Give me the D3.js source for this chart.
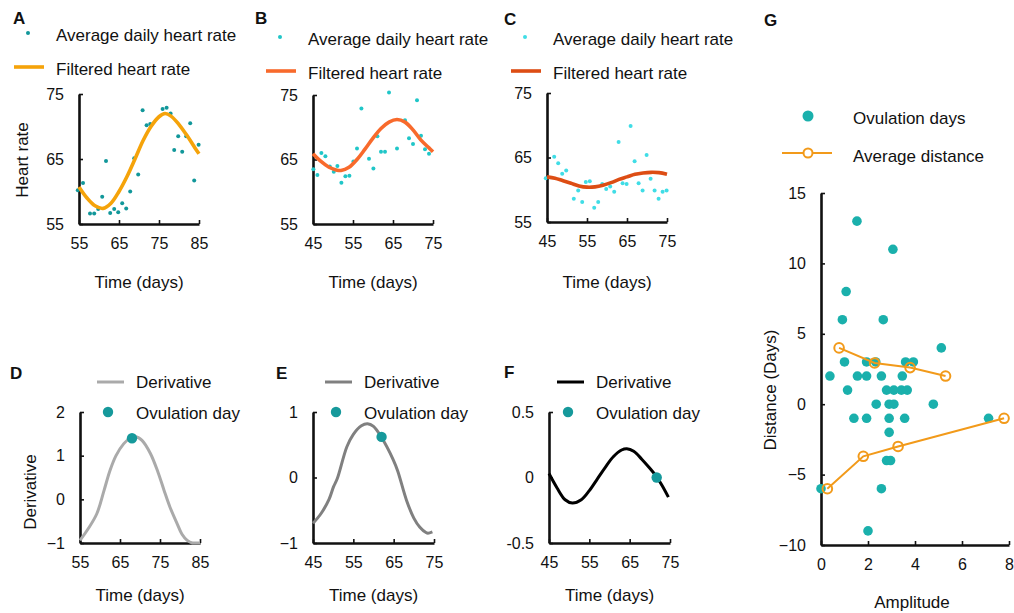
<!DOCTYPE html>
<html><head><meta charset="utf-8">
<script src="https://cdn.jsdelivr.net/npm/d3@7"></script>
<style>
body{margin:0;background:#fff;}
text{font-family:"Liberation Sans",Arial,sans-serif;fill:#111;}
</style></head>
<body><svg id="c" width="1014" height="613"></svg>
<script>
// ---------- DATA ----------
const aDays = [54.7,56,57.75,58.8,59.8,60.8,61.75,62.8,63.8,64.8,65.8,66.8,67.8,68.8,69.8,70.9,71.9,72.8,75.9,76.9,77.9,78.8,79.8,80.8,81.8,82.8,83.8,84.9];
const aHR   = [60.2,61.3,56.6,56.6,57.3,59.2,64.7,56.7,57.3,56.8,58.2,57.4,60.0,65.1,62.6,72.5,70.2,70.4,72.7,72.9,72.0,66.4,68.5,66.1,68.5,70.5,61.7,67.2];
const aFiltDays = [55,57,59,61,63,65,67,69,71,73,75,76.5,78,80,82,84,85];
const aFiltHR   = [60.7,59.0,57.8,57.4,58.2,60.0,62.3,65.0,67.8,70.0,71.5,72.0,71.6,70.3,68.6,66.7,65.8];

const bDays = [45.1,46.1,47.1,48.1,49.2,50.2,51.1,52.1,53.1,54.1,55.1,56,57.1,59,60.1,61.1,62,63,64,66,68,69,70,71,72,73,74];
const bHR   = [63.5,62.6,66.0,65.5,63.9,63.1,64.0,61.4,62.4,62.5,64.7,66.7,72.9,65.1,63.6,68.6,66.2,66.2,75.4,66.7,71.1,68.3,67.4,74.2,68.7,66.6,65.9];
const bFiltDays = [45,47,49,51,52,54,56,58,60,62,64,66,68,70,72,74,75];
const bFiltHR   = [65.9,64.7,63.8,63.35,63.3,63.8,65.0,66.6,68.3,69.8,70.8,71.2,70.8,69.6,68.0,66.8,66.2];

const cDays = [44.7,46.8,47.8,48.8,49.8,51.7,52.8,53.8,54.7,55.7,56.8,57.8,58.8,59.8,60.8,61.8,62.9,63.9,64.9,65.9,66.9,67.9,68.9,69.9,70.9,71.9,72.9,73.9,74.9];
const cHR   = [61.8,65.1,64.1,62.5,63.0,58.6,59.9,58.1,61.2,61.3,57.2,58.1,60.9,60.1,60.5,59.7,67.4,61.0,60.9,69.9,64.4,61.0,59.9,65.4,61.7,59.9,58.6,59.7,59.9];
const cFiltDays = [45,47,49,51,53,55,57,59,61,63,65,67,69,71,73,75];
const cFiltHR   = [62.0,61.8,61.4,61.0,60.6,60.4,60.45,60.7,61.1,61.6,62.0,62.4,62.6,62.7,62.65,62.4];

const dDays = [55,57,59.2,61,62.5,64,65.9,67.5,68.8,70.5,72.6,74.5,76,77.5,79.3,80.5,81.8,83.1,84,85];
const dDeriv = [-0.94,-0.68,-0.33,0.2,0.66,1.0,1.27,1.4,1.44,1.35,1.05,0.62,0.21,-0.18,-0.56,-0.8,-0.94,-1.0,-1.0,-1.0];
const dOvu = [68, 1.40];

const eDays = [45,47,49,50.1,51,53.4,55,57,58.5,60,62,64.9,66,68.2,70,71.5,73,73.5,74.6];
const eDeriv = [-0.70,-0.55,-0.33,-0.14,-0.02,0.47,0.66,0.79,0.82,0.78,0.61,0.27,0.1,-0.35,-0.62,-0.76,-0.84,-0.85,-0.83];
const eOvu = [62, 0.62];

const fDays = [45,47,49,50.8,53,55,57,59,61,63,64.3,66,68,70,71.7,73,74.6];
const fDeriv = [0.03,-0.08,-0.17,-0.195,-0.17,-0.1,-0.01,0.08,0.16,0.21,0.22,0.2,0.14,0.07,0.005,-0.06,-0.15];
const fOvu = [71.7, 0.0];

const gAmp  = [1.53,3.06,1.07,0.91,2.65,0.38,1.0,1.13,1.40,1.55,1.94,1.94,2.33,1.94,2.35,2.57,2.79,3.1,3.42,3.67,2.9,3.1,2.9,2.9,2.79,2.96,2.57,2.0,0.0,3.46,3.6,3.93,3.56,4.78,5.12,7.13];
const gDist = [13,11,8,6,6,2,3,1,-1,2,3,2,3,-1,0,2,1,1,1,1,0,0,-1,-2,-4,-4,-6,-9,-6,2,3,3,-1,0,4,-1];
const gUpAmp  = [0.77,2.28,3.79,5.3];
const gUpDist = [4,2.93,2.6,2];
const gLoAmp  = [0.27,1.8,3.28,7.79];
const gLoDist = [-6,-3.7,-3.0,-1];

const xTicksA = [55,65,75,85], xTicksBC = [45,55,65,75];
const hrTicks = [55,65,75];
const dTicks = [-1,0,1,2], eTicks = [-1,0,1], fTicks = [-0.5,0,0.5];
const gXTicks = [0,2,4,6,8], gYTicks = [-10,-5,0,5,10,15];

// ---------- DRAW ----------
const svg = d3.select("#c");
const teal = "#16999b";

function axes(g, x, y, xt, yt, fmtY){
  const ax = g.append("g").attr("transform",`translate(0,${y.range()[0]})`)
    .call(d3.axisBottom(x).tickValues(xt).tickSizeInner(-4).tickSizeOuter(0).tickPadding(14).tickFormat(d3.format("d")));
  const ay = g.append("g").attr("transform",`translate(${x.range()[0]},0)`)
    .call(d3.axisLeft(y).tickValues(yt).tickSizeInner(-4).tickSizeOuter(0).tickPadding(15).tickFormat(fmtY||d3.format("d")));
  [ax,ay].forEach(a=>{
    a.select(".domain").attr("stroke","#111").attr("stroke-width",2.6);
    a.selectAll(".tick line").attr("stroke","#111").attr("stroke-width",1.6);
    a.selectAll(".tick text").attr("font-size",16).attr("fill","#111").style("font-family","Liberation Sans, Arial");
  });
}
function letter(x,y,t){ svg.append("text").attr("x",x).attr("y",y).attr("dy","0.35em").attr("font-size",17).attr("font-weight","bold").text(t); }
function txt(x,y,t,opts={}){ const e=svg.append("text").attr("x",x).attr("y",y).attr("dy","0.35em").attr("font-size",opts.size||17).attr("text-anchor",opts.anchor||"start").text(t); if(opts.rot) e.attr("transform",`rotate(-90,${x},${y})`); return e; }

function hrPanel(cfg){
  const x = d3.scaleLinear().domain(cfg.xd).range([cfg.x0,cfg.x1]);
  const y = d3.scaleLinear().domain([55,75]).range([cfg.y1,cfg.y0]);
  const g = svg.append("g");
  axes(g,x,y,cfg.xt,hrTicks);
  g.append("g").selectAll("circle").data(cfg.days.map((d,i)=>[d,cfg.hr[i]])).join("circle")
    .attr("cx",d=>x(d[0])).attr("cy",d=>y(d[1])).attr("r",2).attr("fill",cfg.dot);
  g.append("path").datum(cfg.fd.map((d,i)=>[d,cfg.fh[i]]))
    .attr("d",d3.line().x(d=>x(d[0])).y(d=>y(d[1])).curve(d3.curveCatmullRom))
    .attr("fill","none").attr("stroke",cfg.line).attr("stroke-width",3.6);
  // legend
  svg.append("circle").attr("cx",cfg.lx+14).attr("cy",cfg.ly).attr("r",2).attr("fill",cfg.dot);
  txt(cfg.lx+42,cfg.ly+2,"Average daily heart rate");
  svg.append("line").attr("x1",cfg.lx).attr("x2",cfg.lx+30).attr("y1",cfg.ly+34).attr("y2",cfg.ly+34).attr("stroke",cfg.line).attr("stroke-width",3.6);
  txt(cfg.lx+42,cfg.ly+36,"Filtered heart rate");
  txt((cfg.x0+cfg.x1)/2,282,"Time (days)",{anchor:"middle"});
}

hrPanel({xd:[55,85],x0:79,x1:199,y0:94,y1:224,xt:xTicksA,days:aDays,hr:aHR,fd:aFiltDays,fh:aFiltHR,dot:"#11979a",line:"#f5a30a",lx:14,ly:33});
hrPanel({xd:[45,75],x0:313,x1:433,y0:95,y1:224,xt:xTicksBC,days:bDays,hr:bHR,fd:bFiltDays,fh:bFiltHR,dot:"#20c6c8",line:"#f86a2c",lx:266,ly:37});
hrPanel({xd:[45,75],x0:547,x1:667,y0:93,y1:222,xt:xTicksBC,days:cDays,hr:cHR,fd:cFiltDays,fh:cFiltHR,dot:"#40dde6",line:"#dd4d14",lx:511,ly:37});
txt(22,160,"Heart rate",{rot:true,anchor:"middle"});

function derPanel(cfg){
  const x = d3.scaleLinear().domain(cfg.xd).range([cfg.x0,cfg.x1]);
  const y = d3.scaleLinear().domain(cfg.yd).range([543,412]);
  const g = svg.append("g");
  axes(g,x,y,cfg.xt,cfg.yt,cfg.fmt);
  g.append("path").datum(cfg.days.map((d,i)=>[d,cfg.v[i]]))
    .attr("d",d3.line().x(d=>x(d[0])).y(d=>y(d[1])).curve(d3.curveCatmullRom))
    .attr("fill","none").attr("stroke",cfg.col).attr("stroke-width",3);
  g.append("circle").attr("cx",x(cfg.ovu[0])).attr("cy",y(cfg.ovu[1])).attr("r",5.2).attr("fill",teal);
  svg.append("line").attr("x1",cfg.lx).attr("x2",cfg.lx+27).attr("y1",382).attr("y2",382).attr("stroke",cfg.col).attr("stroke-width",3);
  txt(cfg.lx+39,382,"Derivative");
  svg.append("circle").attr("cx",cfg.lx+11).attr("cy",412).attr("r",5.2).attr("fill",teal);
  txt(cfg.lx+39,413,"Ovulation day");
  txt((cfg.x0+cfg.x1)/2,595,"Time (days)",{anchor:"middle"});
}
derPanel({xd:[55,85],x0:80,x1:200,yd:[-1,2],xt:xTicksA,yt:dTicks,days:dDays,v:dDeriv,ovu:dOvu,col:"#aaaaaa",lx:97});
derPanel({xd:[45,75],x0:313,x1:434,yd:[-1,1],xt:xTicksBC,yt:eTicks,days:eDays,v:eDeriv,ovu:eOvu,col:"#808080",lx:325});
derPanel({xd:[45,75],x0:549,x1:670,yd:[-0.5,0.5],xt:xTicksBC,yt:fTicks,days:fDays,v:fDeriv,ovu:fOvu,col:"#000000",lx:557,fmt:d=>d===0?"0":String(d)});
txt(30,492,"Derivative",{rot:true,anchor:"middle"});

// G
(function(){
  const x = d3.scaleLinear().domain([0,8]).range([821,1009]);
  const y = d3.scaleLinear().domain([-10,15]).range([545,193]);
  const g = svg.append("g");
  axes(g,x,y,gXTicks,gYTicks);
  g.append("g").selectAll("circle").data(gAmp.map((d,i)=>[d,gDist[i]])).join("circle")
    .attr("cx",d=>x(d[0])).attr("cy",d=>y(d[1])).attr("r",4.8).attr("fill","#1ab0ac");
  const orange="#f29a1a";
  [[gUpAmp,gUpDist],[gLoAmp,gLoDist]].forEach(([xs,ys])=>{
    const pts = xs.map((d,i)=>[d,ys[i]]);
    g.append("path").datum(pts).attr("d",d3.line().x(d=>x(d[0])).y(d=>y(d[1])))
      .attr("fill","none").attr("stroke",orange).attr("stroke-width",2);
    g.append("g").selectAll("circle").data(pts).join("circle")
      .attr("cx",d=>x(d[0])).attr("cy",d=>y(d[1])).attr("r",4.8)
      .attr("fill","none").attr("stroke",orange).attr("stroke-width",2);
  });
  svg.append("circle").attr("cx",808).attr("cy",116).attr("r",5.5).attr("fill","#1ab0ac");
  txt(853,118,"Ovulation days");
  svg.append("line").attr("x1",782).attr("x2",832).attr("y1",153).attr("y2",153).attr("stroke",orange).attr("stroke-width",2);
  svg.append("circle").attr("cx",808).attr("cy",153).attr("r",4.5).attr("fill","#fff").attr("stroke",orange).attr("stroke-width",2);
  txt(853,156,"Average distance");
  txt(770,390,"Distance (Days)",{rot:true,anchor:"middle"});
  txt(912,602,"Amplitude",{anchor:"middle"});
})();

letter(13,18,"A"); letter(255,18,"B"); letter(504,19,"C");
letter(10,373,"D"); letter(276,373,"E"); letter(504,372,"F"); letter(764,20,"G");
</script></body></html>
